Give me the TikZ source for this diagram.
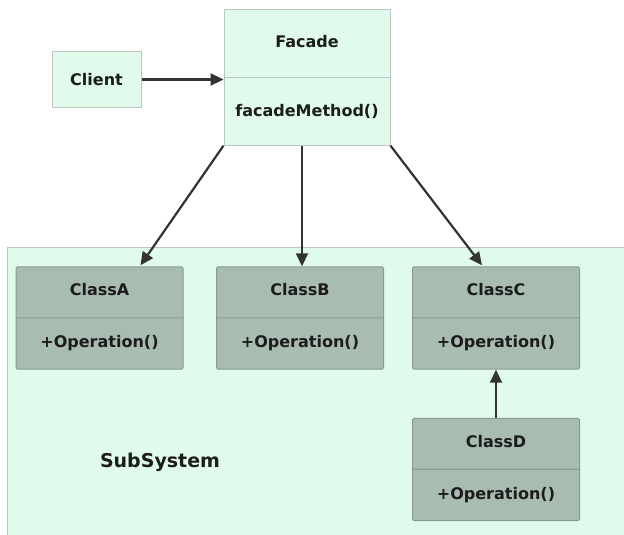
\documentclass[tikz,border=0pt]{standalone}
\usepackage{fontspec}
\setmainfont{DejaVu Sans}
\usepackage{tikz}
\usetikzlibrary{shapes,arrows.meta,calc}

\definecolor{paleGreen}{HTML}{E0FAEC}
\definecolor{paleEdge}{HTML}{BCC6C1}
\definecolor{classFill}{HTML}{A9BCB1}
\definecolor{classEdge}{HTML}{8A9A92}
\definecolor{ink}{HTML}{1C1C1C}

\begin{document}
\begin{tikzpicture}[x=1pt,y=-1pt,
    txt/.style={font=\bfseries\fontsize{16}{18}\selectfont, text=ink},
    plainbox/.style={txt, draw=paleEdge, fill=paleGreen, line width=1pt},
    splitbox/.style={txt, rectangle split, rectangle split parts=2,
        text height=11pt, text depth=4pt, inner xsep=4pt},
    classbox/.style={splitbox, draw=classEdge, fill=classFill, line width=1pt,
        rounded corners=1.5pt, minimum width=167pt, inner ysep=17.5pt},
    assoc/.style={-{Triangle[length=13pt,width=12pt]}, line width=2.2pt, draw=ink!90}
  ]
    \useasboundingbox (0,0) rectangle (624,535);

    % SubSystem area
    \draw[draw=paleEdge, fill=paleGreen, line width=1pt] (7,247) rectangle (640,550);
    \node[txt, font=\bfseries\fontsize{19}{22}\selectfont] (subsys) at (160,462) {SubSystem};

    % Client and Facade
    \node[plainbox, minimum width=89pt, minimum height=55pt] (client) at (96.5,79.5) {Client};
    \node[plainbox, splitbox, minimum width=166pt, inner ysep=26pt] (facade) at (307,77.5)
        {Facade \nodepart{two} facadeMethod()};

    % Subsystem classes
    \node[classbox] (clsA) at (99.5,318) {ClassA \nodepart{two} +Operation()};
    \node[classbox] (clsB) at (300,318) {ClassB \nodepart{two} +Operation()};
    \node[classbox] (clsC) at (496,318) {ClassC \nodepart{two} +Operation()};
    \node[classbox] (clsD) at (496,469.5) {ClassD \nodepart{two} +Operation()};

    % Arrows
    \draw[assoc] (client.east) -- (client.east -| facade.west);
    \draw[assoc] (facade.south west) -- ([xshift=41pt,yshift=1pt]clsA.north);
    \draw[assoc] ([xshift=-5pt]facade.south) -- ([xshift=2pt]clsB.north);
    \draw[assoc] (facade.south east) -- ([xshift=-14pt,yshift=1pt]clsC.north);
    \draw[assoc] (clsD.north) -- (clsC.south);
\end{tikzpicture}
\end{document}
